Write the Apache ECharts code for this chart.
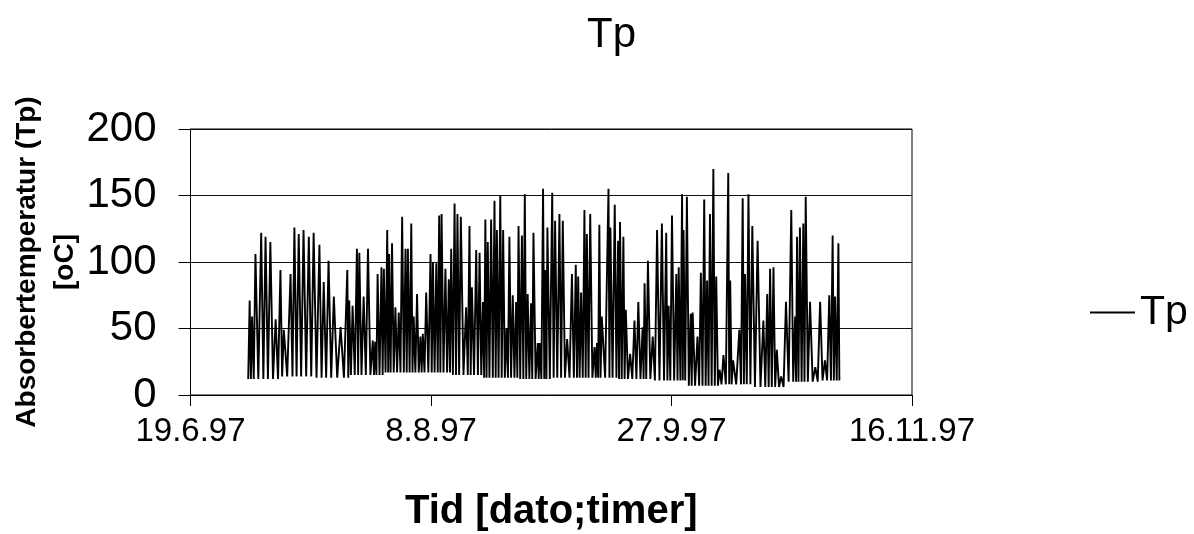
<!DOCTYPE html>
<html>
<head>
<meta charset="utf-8">
<title>Tp</title>
<script src="https://cdn.jsdelivr.net/npm/echarts/dist/echarts.min.js"></script>
<style>
  html, body { margin: 0; padding: 0; background: #fff; }
  #chart { width: 1194px; height: 534px; }
</style>
</head>
<body>
<div id="chart"></div>
<script>
  // x = dager etter 19.6.97, aksen går 0..150 med steg 50
  var xTickLabels = ['19.6.97', '8.8.97', '27.9.97', '16.11.97']
  var yTicks = [0, 50, 100, 150, 200]

  // måleperioden (dager etter 19.6.97)
  var startDay = 12.0
  var endDay = 134.9

  // dagtopper: tidspunkt og absorbertemperatur (oC), lest av figuren
  var peakDay = [
    12.3, 12.8, 13.5, 14.7, 15.6, 16.6, 17.7, 18.7, 19.4, 20.8,
    21.6, 22.5, 23.5, 24.6, 25.6, 26.8, 27.7, 28.7, 29.8, 31.2,
    32.6, 33.0, 33.7, 34.6, 35.1, 36.0, 36.9, 37.9, 38.4, 38.9,
    39.7, 40.2, 40.9, 41.3, 41.9, 42.6, 43.3, 44.0, 44.7, 45.2,
    45.9, 46.4, 47.1, 47.8, 48.3, 49.0, 49.9, 50.4, 51.1, 51.7,
    52.2, 53.0, 53.7, 54.2, 54.9, 55.5, 56.2, 57.3, 58.0, 58.5,
    59.4, 60.1, 60.8, 61.3, 61.8, 62.5, 63.2, 63.7, 64.4, 65.0,
    65.7, 66.3, 67.0, 67.7, 68.2, 68.9, 69.5, 70.1, 70.8, 71.3,
    72.2, 72.6, 73.3, 73.8, 74.2, 75.2, 75.8, 76.7, 77.4, 78.3,
    79.3, 80.1, 80.6, 81.2, 81.9, 82.4, 83.1, 84.0, 84.5, 85.0,
    85.5, 86.9, 87.3, 88.2, 88.9, 89.3, 90.0, 90.5, 91.4, 92.3,
    93.1, 94.0, 94.4, 95.1, 96.1, 97.0, 98.0, 98.9, 99.4, 100.1,
    101.0, 101.5, 102.2, 102.5, 103.2, 104.0, 104.4, 105.4, 106.1, 106.8,
    107.4, 108.0, 108.7, 109.3, 110.0, 110.8, 111.8, 112.2, 112.8, 114.1,
    114.8, 115.3, 116.0, 116.8, 117.9, 119.1, 119.9, 120.5, 121.2, 121.9,
    122.8, 123.8, 124.9, 125.7, 126.1, 126.7, 127.4, 127.9, 128.8, 129.9,
    130.9, 131.9, 132.8, 133.5, 134.0, 134.7
  ]
  var peakTemp = [
    71, 59, 106, 122, 119, 115, 57, 94, 49, 91,
    126, 121, 124, 119, 122, 113, 85, 101, 74, 51,
    94, 71, 67, 110, 107, 74, 110, 41, 40, 91,
    96, 95, 124, 106, 114, 66, 62, 134, 110, 110,
    129, 59, 76, 44, 46, 77, 106, 100, 99, 135,
    136, 95, 87, 110, 144, 136, 134, 66, 127, 81,
    109, 107, 70, 132, 115, 132, 146, 124, 150, 124,
    50, 119, 75, 70, 127, 120, 151, 76, 69, 122,
    39, 39, 155, 94, 126, 152, 131, 136, 131, 42,
    91, 98, 89, 77, 139, 121, 136, 36, 39, 128,
    59, 155, 126, 143, 116, 130, 119, 64, 31, 56,
    70, 51, 84, 101, 44, 124, 129, 122, 67, 135,
    91, 96, 151, 124, 149, 61, 62, 44, 92, 147,
    86, 136, 170, 89, 19, 30, 167, 86, 26, 49,
    148, 91, 151, 127, 116, 56, 76, 95, 96, 34,
    14, 70, 139, 59, 119, 126, 129, 149, 70, 21,
    70, 26, 75, 120, 74, 114
  ]
  // nattlig bunnivå per uke fra 1.7.97 (oC)
  var weeklyLow = [12, 14, 13, 15, 17, 17, 15, 13, 12, 13, 13, 12, 11, 7, 8, 6, 10, 11]

  function lowOf(d) {
    var w = Math.floor((d - startDay) / 7)
    return weeklyLow[Math.max(0, Math.min(w, weeklyLow.length - 1))]
  }

  // bunn mellom hver topp
  var tp = [[startDay, lowOf(startDay)]]
  for (var i = 0; i < peakDay.length; i++) {
    if (i > 0) {
      var mid = (peakDay[i - 1] + peakDay[i]) / 2
      tp.push([mid, lowOf(mid)])
    }
    tp.push([peakDay[i], peakTemp[i]])
  }
  tp.push([endDay, lowOf(endDay)])

  var font = 'Liberation Sans, Arial, sans-serif'
  var myChart = echarts.init(document.getElementById('chart'))
  myChart.setOption({
    animation: false,
    backgroundColor: '#fff',
    title: {
      text: 'Tp',
      left: 582,
      top: 9,
      textStyle: { fontFamily: font, fontSize: 42, fontWeight: 'normal', color: '#000' }
    },
    legend: {
      data: ['Tp'],
      left: 1085,
      top: 287,
      icon: 'rect',
      itemWidth: 45,
      itemHeight: 2,
      textStyle: { fontFamily: font, fontSize: 41, color: '#000' }
    },
    grid: {
      left: 190.5,
      right: 282,
      top: 129,
      bottom: 139,
      outerBoundsMode: 'none',
      containLabel: false,
      show: true,
      borderColor: '#000',
      borderWidth: 1
    },
    xAxis: {
      type: 'value',
      min: 0,
      max: 150,
      interval: 50,
      name: 'Tid [dato;timer]',
      nameLocation: 'middle',
      nameGap: 97,
      nameMoveOverlap: false,
      nameTextStyle: { fontFamily: font, fontSize: 40, fontWeight: 'bold', color: '#000' },
      axisLine: { lineStyle: { color: '#000', width: 1 } },
      axisTick: { show: true, inside: false, length: 11, lineStyle: { color: '#000' } },
      axisLabel: {
        margin: 20,
        fontFamily: font,
        fontSize: 33,
        color: '#000',
        formatter: function (v) { return xTickLabels[Math.round(v / 50)] }
      },
      splitLine: { show: false }
    },
    yAxis: {
      type: 'value',
      min: yTicks[0],
      max: yTicks[yTicks.length - 1],
      interval: 50,
      name: 'Absorbertemperatur (Tp)\n[oC]',
      nameLocation: 'middle',
      nameGap: 106,
      nameMoveOverlap: false,
      nameTextStyle: { fontFamily: font, fontSize: 28, fontWeight: 'bold', color: '#000', lineHeight: 38 },
      axisLine: { show: true, lineStyle: { color: '#000', width: 1 } },
      axisTick: { show: true, inside: false, length: 12, lineStyle: { color: '#000' } },
      axisLabel: { margin: 34, fontFamily: font, fontSize: 42, color: '#000' },
      splitLine: { show: true, lineStyle: { color: '#111', width: 1 } }
    },
    series: [
      {
        name: 'Tp',
        type: 'line',
        data: tp,
        symbol: 'none',
        color: '#000',
        lineStyle: { color: '#000', width: 1.9 }
      }
    ]
  })
</script>
</body>
</html>
